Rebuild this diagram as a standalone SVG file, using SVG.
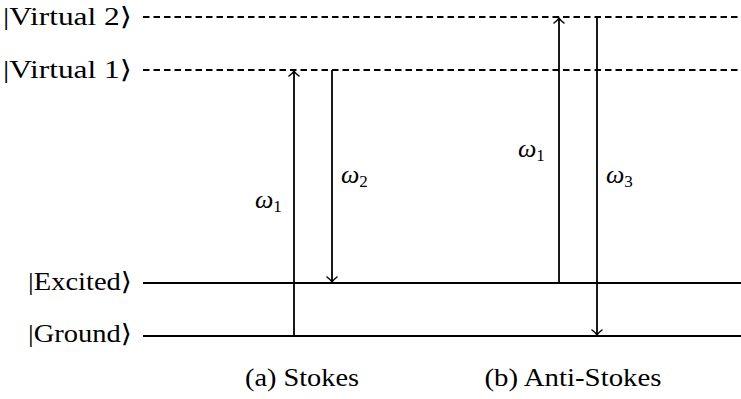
<svg xmlns="http://www.w3.org/2000/svg" width="741" height="399" viewBox="0 0 741 399">
<style>
.lv{stroke:#000;stroke-width:2;fill:none}
.dash{stroke-dasharray:6.5 4}
.ar{stroke:#000;stroke-width:1.8;fill:none}
text{font-family:"Liberation Serif","DejaVu Serif",serif;fill:#000}
</style>
<defs>
<marker id="h" viewBox="-6 -6 8 12" markerWidth="8" markerHeight="12" refX="0" refY="0" orient="auto" markerUnits="userSpaceOnUse">
<path d="M-5,-5 Q-2,-1 0,0 Q-2,1 -5,5" stroke="#000" stroke-width="1.5" fill="none" stroke-linecap="round"/>
</marker>
</defs>
<g id="level-virtual2">
<line class="lv dash" x1="143" y1="17" x2="741" y2="17"/>
<text x="132" y="25" text-anchor="end" font-size="25" textLength="129" lengthAdjust="spacingAndGlyphs">|Virtual 2⟩</text>
</g>
<g id="level-virtual1">
<line class="lv dash" x1="143" y1="70" x2="741" y2="70"/>
<text x="132" y="78" text-anchor="end" font-size="25" textLength="129" lengthAdjust="spacingAndGlyphs">|Virtual 1⟩</text>
</g>
<g id="level-excited">
<line class="lv" x1="143" y1="283" x2="741" y2="283"/>
<text x="132" y="290" text-anchor="end" font-size="25" textLength="104" lengthAdjust="spacingAndGlyphs">|Excited⟩</text>
</g>
<g id="level-ground">
<line class="lv" x1="143" y1="336" x2="741" y2="336"/>
<text x="132" y="342" text-anchor="end" font-size="25" textLength="104" lengthAdjust="spacingAndGlyphs">|Ground⟩</text>
</g>
<g id="connectors">
<line class="ar" x1="294" y1="336" x2="294" y2="71" marker-end="url(#h)"/>
<line class="ar" x1="332" y1="70" x2="332" y2="282" marker-end="url(#h)"/>
<line class="ar" x1="559" y1="283" x2="559" y2="18" marker-end="url(#h)"/>
<line class="ar" x1="597" y1="17" x2="597" y2="335" marker-end="url(#h)"/>
</g>
<g id="labels">
<text x="255" y="208"><tspan font-size="26" font-style="italic">ω</tspan><tspan font-size="17" dy="4">1</tspan></text>
<text x="341" y="183"><tspan font-size="26" font-style="italic">ω</tspan><tspan font-size="17" dy="4">2</tspan></text>
<text x="518" y="157"><tspan font-size="26" font-style="italic">ω</tspan><tspan font-size="17" dy="4">1</tspan></text>
<text x="606" y="183"><tspan font-size="26" font-style="italic">ω</tspan><tspan font-size="17" dy="4">3</tspan></text>
</g>
<g id="caption-a"><text x="302" y="386" text-anchor="middle" font-size="25" textLength="114" lengthAdjust="spacingAndGlyphs">(a) Stokes</text></g>
<g id="caption-b"><text x="573" y="386" text-anchor="middle" font-size="25" textLength="177" lengthAdjust="spacingAndGlyphs">(b) Anti-Stokes</text></g>
</svg>
